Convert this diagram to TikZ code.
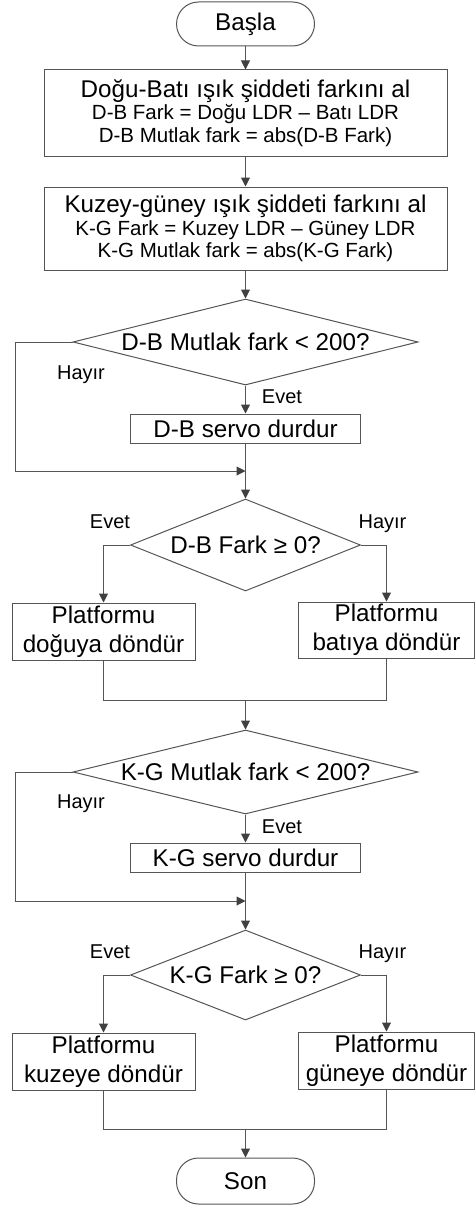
\documentclass[tikz,border=0pt]{standalone}
\usepackage{fontspec}
\setmainfont{Liberation Sans}
\usetikzlibrary{shapes.geometric,arrows.meta}
\definecolor{lncol}{HTML}{555555}
\definecolor{tipcol}{HTML}{404040}
\newcommand{\bigtxt}{\fontsize{24.2}{29}\selectfont}
\newcommand{\infotxt}{\fontsize{24.2}{22.4}\selectfont}
\newcommand{\smalltxt}{\fontsize{20.5}{22.4}\selectfont}
\newcommand{\lbltxt}{\fontsize{20}{24}\selectfont}

\begin{document}
\begin{tikzpicture}[x=1pt,y=-1pt,
  flowline/.style={draw=lncol,line width=1pt},
  arr/.style={flowline,-{Triangle[length=9pt,width=9pt,color=tipcol]}},
  proc/.style={flowline,rectangle,inner sep=0pt,align=center,font=\bigtxt},
  term/.style={flowline,rectangle,rounded corners=22pt,minimum width=138pt,minimum height=44pt,inner sep=0pt,font=\bigtxt},
  cond/.style={flowline,diamond,aspect=1,inner sep=0pt,font=\bigtxt},
  lbl/.style={anchor=base,font=\lbltxt}]
\useasboundingbox (0,0) rectangle (475,1207);

% east-west part
\node[term] (start) at (245.5,24) {Başla};
\node[proc,font=\infotxt,minimum width=403pt,minimum height=86pt] (dbcalc) at (245.5,113) {Doğu-Batı ışık şiddeti farkını al\\ \smalltxt D-B Fark = Doğu LDR – Batı LDR\\ \smalltxt D-B Mutlak fark = abs(D-B Fark)};
\node[proc,font=\infotxt,minimum width=403pt,minimum height=83pt] (kgcalc) at (245.5,228.5) {Kuzey-güney ışık şiddeti farkını al\\ \smalltxt K-G Fark = Kuzey LDR – Güney LDR\\ \smalltxt K-G Mutlak fark = abs(K-G Fark)};
\node[cond,minimum width=345pt,minimum height=86pt] (dbabs) at (245.5,342) {\makebox[0pt]{D-B Mutlak fark < 200?}};
\node[proc,minimum width=230pt,minimum height=29pt] (dbstop) at (245.5,428.5) {D-B servo durdur};
\coordinate (dbjoin) at (245.5,471);
\node[cond,minimum width=230pt,minimum height=92pt] (dbsign) at (245.5,545) {\makebox[0pt]{D-B Fark ≥ 0?}};
\node[proc,minimum width=183pt,minimum height=57pt] (rotE) at (103.5,631.5) {Platformu\\doğuya döndür};
\node[proc,minimum width=176pt,minimum height=56pt] (rotW) at (386.5,630) {Platformu\\batıya döndür};
\coordinate (dbmerge) at (245.5,700);

% north-south part
\node[cond,minimum width=345pt,minimum height=84pt] (kgabs) at (245.5,772) {\makebox[0pt]{K-G Mutlak fark < 200?}};
\node[proc,minimum width=230pt,minimum height=29pt] (kgstop) at (245.5,857.5) {K-G servo durdur};
\coordinate (kgjoin) at (245.5,901);
\node[cond,minimum width=230pt,minimum height=90pt] (kgsign) at (245.5,975) {\makebox[0pt]{K-G Fark ≥ 0?}};
\node[proc,minimum width=183pt,minimum height=57pt] (rotN) at (103.5,1061.5) {Platformu\\kuzeye döndür};
\node[proc,minimum width=176pt,minimum height=57pt] (rotS) at (386.5,1060.5) {Platformu\\güneye döndür};
\coordinate (kgmerge) at (245.5,1129);
\node[term,minimum height=46pt] (finish) at (245.5,1181) {Son};

% labels
\node[lbl] (dbno) at (81,379) {Hayır};
\node[lbl] (dbyes) at (282,403) {Evet};
\node[lbl] (dbpos) at (110,528) {Evet};
\node[lbl] (dbneg) at (382.5,528) {Hayır};
\node[lbl] (kgno) at (81,808) {Hayır};
\node[lbl] (kgyes) at (282,833) {Evet};
\node[lbl] (kgpos) at (110,958) {Evet};
\node[lbl] (kgneg) at (382.5,958) {Hayır};

% connectors
\draw[arr] (start) -- (dbcalc);
\draw[arr] (dbcalc) -- (kgcalc);
\draw[arr] (kgcalc) -- (dbabs);
\draw[arr] (dbabs) -- (dbstop);
\draw[arr] (dbabs.west) -- ++(-57,0) |- (dbjoin);
\draw[flowline] (dbstop) -- (dbjoin);
\draw[arr] (dbjoin) -- (dbsign);
\draw[arr] (dbsign.west) -| (rotE);
\draw[arr] (dbsign.east) -| (rotW);
\draw[flowline] (rotE) |- (dbmerge);
\draw[flowline] (rotW) |- (dbmerge);
\draw[arr] (dbmerge) -- (kgabs);
\draw[arr] (kgabs) -- (kgstop);
\draw[arr] (kgabs.west) -- ++(-57,0) |- (kgjoin);
\draw[flowline] (kgstop) -- (kgjoin);
\draw[arr] (kgjoin) -- (kgsign);
\draw[arr] (kgsign.west) -| (rotN);
\draw[arr] (kgsign.east) -| (rotS);
\draw[flowline] (rotN) |- (kgmerge);
\draw[flowline] (rotS) |- (kgmerge);
\draw[arr] (kgmerge) -- (finish);

\end{tikzpicture}
\end{document}
